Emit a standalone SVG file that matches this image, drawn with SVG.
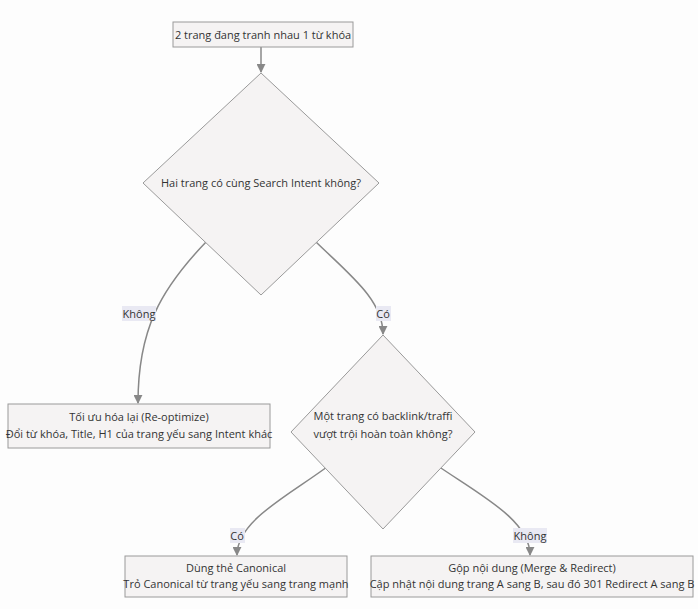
<svg xmlns="http://www.w3.org/2000/svg" width="698" height="609" viewBox="0 0 698 609">
<style>
.n{fill:#f5f3f3;stroke:#9a9a9a;stroke-width:1}
text{font-family:"Open Sans","Liberation Sans",sans-serif;font-size:11px;fill:#333;text-anchor:middle}
.e{fill:none;stroke:#888;stroke-width:1.5}
.lb{fill:#e9e9f3}
</style>
<defs><marker id="a" viewBox="0 0 10 10" refX="9" refY="5" markerWidth="6" markerHeight="6" orient="auto"><path d="M0,0L10,5L0,10z" fill="#888"/></marker></defs>
<rect width="698" height="609" fill="#fdfdfd"/>
<g id="edges">
<path class="e" d="M261,47V72" marker-end="url(#a)"/>
<path class="e" d="M206,242C160,290 138,330 138,403" marker-end="url(#a)"/>
<path class="e" d="M316,242C350,275 383,300 383,334" marker-end="url(#a)"/>
<path class="e" d="M331,464C290,495 237,520 237,555" marker-end="url(#a)"/>
<path class="e" d="M435,464C480,495 530,520 530,555" marker-end="url(#a)"/>
<rect class="lb" x="122" y="306" width="34" height="15"/><text x="139" y="318">Không</text>
<rect class="lb" x="376" y="306" width="15" height="15"/><text x="383" y="318">Có</text>
<rect class="lb" x="230" y="528" width="15" height="15"/><text x="237" y="540">Có</text>
<rect class="lb" x="513" y="528" width="34" height="15"/><text x="530" y="540">Không</text>
</g>
<g id="start"><rect class="n" x="173" y="22" width="180" height="25"/><text x="263" y="39">2 trang đang tranh nhau 1 từ khóa</text></g>
<g id="d1"><path class="n" d="M261,73L379,183L261,295L143,183z"/><text x="261" y="187">Hai trang có cùng Search Intent không?</text></g>
<g id="d2"><path class="n" d="M383,335L475,432L383,529L291,432z"/><text x="383" y="420">Một trang có backlink/traffi</text><text x="383" y="438">vượt trội hoàn toàn không?</text></g>
<g id="reopt"><rect class="n" x="8" y="404" width="262" height="44"/><text x="139" y="421">Tối ưu hóa lại (Re-optimize)</text><text x="139" y="438">Đổi từ khóa, Title, H1 của trang yếu sang Intent khác</text></g>
<g id="canon"><rect class="n" x="125" y="556" width="222" height="41"/><text x="236" y="572">Dùng thẻ Canonical</text><text x="236" y="588">Trỏ Canonical từ trang yếu sang trang mạnh</text></g>
<g id="merge"><rect class="n" x="371" y="556" width="322" height="41"/><text x="532" y="572">Gộp nội dung (Merge &amp; Redirect)</text><text x="532" y="588">Cập nhật nội dung trang A sang B, sau đó 301 Redirect A sang B</text></g>
</svg>
